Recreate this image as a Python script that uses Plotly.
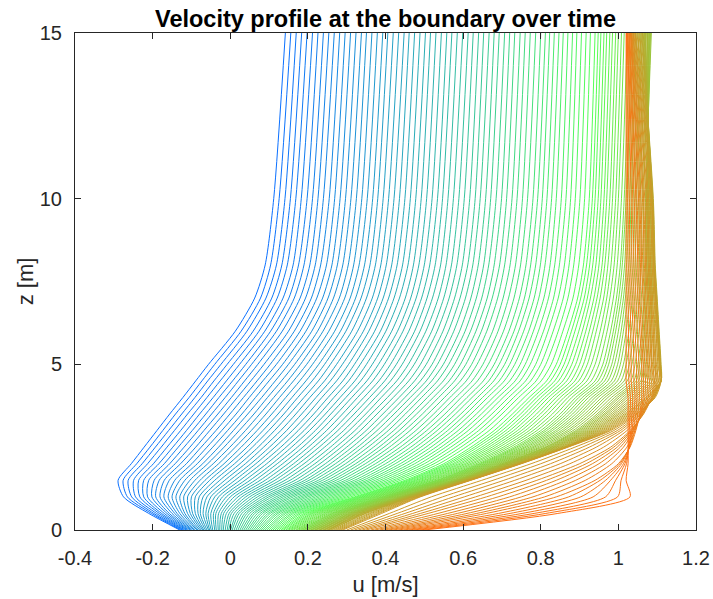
import plotly.graph_objects as go

# Height levels [m]
z_levels = [0, 0.5, 1, 1.5, 2, 2.5, 3, 3.5, 4, 4.5, 5, 6, 7, 8, 10, 15]

# u [m/s] at each height, one value per profile (121 profiles, ordered in time)
u_z00 = [-0.13,
 -0.127,-0.123,-0.12,-0.117,-0.113,-0.11,-0.107,-0.103,-0.1,-0.097,-0.093,-0.09,
 -0.086,-0.083,-0.079,-0.075,-0.071,-0.068,-0.064,-0.06,-0.056,-0.053,-0.049,-0.045,
 -0.04,-0.036,-0.031,-0.027,-0.022,-0.018,-0.013,-0.008,-0.004,0.001,0.005,0.01,
 0.015,0.02,0.025,0.03,0.035,0.04,0.045,0.05,0.055,0.06,0.065,0.07,
 0.075,0.08,0.085,0.09,0.095,0.1,0.105,0.11,0.115,0.12,0.125,0.13,
 0.134,0.138,0.143,0.147,0.151,0.155,0.159,0.163,0.168,0.172,0.176,0.18,
 0.183,0.187,0.19,0.193,0.197,0.2,0.203,0.207,0.21,0.213,0.217,0.22,
 0.223,0.227,0.23,0.233,0.237,0.24,0.243,0.247,0.25,0.253,0.257,0.26,
 0.265,0.27,0.275,0.28,0.285,0.29, 0.3,0.31,0.32,0.33,0.34,0.35,
 0.362,0.373,0.385,0.397,0.408,0.42, 0.433,0.447,0.46,0.473,0.487,0.5]
u_z05 = [-0.21,
 -0.203,-0.197,-0.19,-0.183,-0.177,-0.17,-0.163,-0.157,-0.15,-0.143,-0.137,-0.13,
 -0.123,-0.117,-0.11,-0.103,-0.097,-0.09,-0.083,-0.077,-0.07,-0.063,-0.057,-0.05,
 -0.043,-0.037,-0.03,-0.023,-0.017,-0.01,-0.003,0.003,0.01,0.017,0.023,0.03,
 0.037,0.043,0.05,0.057,0.063,0.07,0.077,0.083,0.09,0.097,0.103,0.11,
 0.117,0.123,0.13,0.137,0.143,0.15,0.157,0.163,0.17,0.177,0.183,0.19,
 0.196,0.202,0.208,0.213,0.219,0.225,0.231,0.237,0.243,0.248,0.254,0.26,
 0.264,0.268,0.273,0.277,0.281,0.285,0.289,0.293,0.298,0.302,0.306,0.31,
 0.313,0.317,0.32,0.323,0.327,0.33,0.333,0.337,0.34,0.343,0.347,0.35,
 0.357,0.363,0.37,0.377,0.383,0.39, 0.41,0.43,0.45,0.47,0.49,0.51,
 0.535,0.56,0.585,0.61,0.635,0.66, 0.691,0.721,0.752,0.783,0.813,0.844]
u_z10 = [-0.275,
 -0.265,-0.254,-0.244,-0.233,-0.223,-0.213,-0.202,-0.192,-0.181,-0.171,-0.16,-0.15,
 -0.14,-0.13,-0.12,-0.11,-0.1,-0.09,-0.08,-0.07,-0.06,-0.05,-0.04,-0.03,
 -0.02,-0.01,0.0,0.01,0.02,0.03,0.04,0.05,0.06,0.07,0.08,0.09,
 0.099,0.108,0.118,0.127,0.136,0.145,0.154,0.163,0.173,0.182,0.191,0.2,
 0.21,0.22,0.23,0.24,0.25,0.26,0.27,0.28,0.29,0.3,0.31,0.32,
 0.326,0.332,0.338,0.343,0.349,0.355,0.361,0.367,0.373,0.378,0.384,0.39,
 0.394,0.398,0.403,0.407,0.411,0.415,0.419,0.423,0.428,0.432,0.436,0.44,
 0.443,0.445,0.448,0.45,0.453,0.455,0.458,0.46,0.463,0.465,0.468,0.47,
 0.473,0.477,0.48,0.483,0.487,0.49, 0.518,0.547,0.575,0.603,0.632,0.66,
 0.69,0.72,0.75,0.78,0.81,0.84, 0.872,0.903,0.935,0.967,0.998,1.03]
u_z15 = [-0.289,
 -0.276,-0.263,-0.249,-0.236,-0.223,-0.21,-0.196,-0.183,-0.17,-0.157,-0.143,-0.13,
 -0.117,-0.104,-0.091,-0.078,-0.065,-0.053,-0.04,-0.027,-0.014,-0.001,0.012,0.025,
 0.038,0.051,0.064,0.077,0.09,0.103,0.115,0.128,0.141,0.154,0.167,0.18,
 0.192,0.203,0.215,0.227,0.238,0.25,0.262,0.273,0.285,0.297,0.308,0.32,
 0.331,0.342,0.353,0.363,0.374,0.385,0.396,0.407,0.418,0.428,0.439,0.45,
 0.457,0.463,0.47,0.477,0.483,0.49,0.497,0.503,0.51,0.517,0.523,0.53,
 0.534,0.538,0.543,0.547,0.551,0.555,0.559,0.563,0.568,0.572,0.576,0.58,
 0.583,0.585,0.588,0.59,0.593,0.595,0.598,0.6,0.603,0.605,0.608,0.61,
 0.612,0.613,0.615,0.617,0.618,0.62, 0.648,0.677,0.705,0.733,0.762,0.79,
 0.815,0.84,0.865,0.89,0.915,0.94, 0.953,0.967,0.98,0.993,1.007,1.02]
u_z20 = [-0.255,
 -0.241,-0.227,-0.213,-0.198,-0.184,-0.17,-0.156,-0.142,-0.128,-0.113,-0.099,-0.085,
 -0.071,-0.058,-0.044,-0.03,-0.016,-0.003,0.011,0.025,0.039,0.053,0.066,0.08,
 0.094,0.108,0.121,0.135,0.149,0.163,0.176,0.19,0.204,0.218,0.231,0.245,
 0.258,0.271,0.284,0.297,0.31,0.323,0.335,0.348,0.361,0.374,0.387,0.4,
 0.413,0.425,0.438,0.45,0.463,0.475,0.488,0.5,0.513,0.525,0.538,0.55,
 0.558,0.565,0.573,0.58,0.588,0.595,0.603,0.61,0.618,0.625,0.633,0.64,
 0.645,0.65,0.655,0.66,0.665,0.67,0.675,0.68,0.685,0.69,0.695,0.7,
 0.703,0.707,0.71,0.713,0.717,0.72,0.723,0.727,0.73,0.733,0.737,0.74,
 0.742,0.743,0.745,0.747,0.748,0.75, 0.775,0.8,0.825,0.85,0.875,0.9,
 0.917,0.933,0.95,0.967,0.983,1.0, 1.004,1.008,1.013,1.017,1.021,1.025]
u_z25 = [-0.222,
 -0.207,-0.193,-0.178,-0.163,-0.148,-0.134,-0.119,-0.104,-0.089,-0.075,-0.06,-0.045,
 -0.03,-0.016,-0.001,0.013,0.028,0.043,0.057,0.072,0.086,0.101,0.115,0.13,
 0.144,0.158,0.173,0.187,0.201,0.215,0.229,0.243,0.258,0.272,0.286,0.3,
 0.314,0.328,0.341,0.355,0.369,0.383,0.396,0.41,0.424,0.438,0.451,0.465,
 0.478,0.491,0.504,0.517,0.53,0.543,0.555,0.568,0.581,0.594,0.607,0.62,
 0.629,0.638,0.648,0.657,0.666,0.675,0.684,0.693,0.703,0.712,0.721,0.73,
 0.737,0.743,0.75,0.757,0.763,0.77,0.777,0.783,0.79,0.797,0.803,0.81,
 0.814,0.818,0.823,0.827,0.831,0.835,0.839,0.843,0.848,0.852,0.856,0.86,
 0.862,0.863,0.865,0.867,0.868,0.87, 0.888,0.907,0.925,0.943,0.962,0.98,
 0.988,0.997,1.005,1.013,1.022,1.03, 1.029,1.028,1.028,1.027,1.026,1.025]
u_z30 = [-0.189,
 -0.174,-0.159,-0.144,-0.128,-0.113,-0.098,-0.083,-0.068,-0.053,-0.037,-0.022,-0.007,
 0.008,0.023,0.039,0.054,0.069,0.084,0.099,0.114,0.13,0.145,0.16,0.175,
 0.19,0.204,0.219,0.233,0.248,0.263,0.277,0.292,0.306,0.321,0.335,0.35,
 0.364,0.378,0.393,0.407,0.421,0.435,0.449,0.463,0.478,0.492,0.506,0.52,
 0.533,0.547,0.56,0.573,0.587,0.6,0.613,0.627,0.64,0.653,0.667,0.68,
 0.69,0.7,0.71,0.72,0.73,0.74,0.75,0.76,0.77,0.78,0.79,0.8,
 0.808,0.815,0.823,0.83,0.838,0.845,0.853,0.86,0.868,0.875,0.883,0.89,
 0.895,0.9,0.905,0.91,0.915,0.92,0.925,0.93,0.935,0.94,0.945,0.95,
 0.955,0.96,0.965,0.97,0.975,0.98, 0.988,0.997,1.005,1.013,1.022,1.03,
 1.033,1.035,1.038,1.04,1.043,1.045, 1.042,1.038,1.035,1.032,1.028,1.025]
u_z35 = [-0.156,
 -0.141,-0.125,-0.11,-0.094,-0.079,-0.063,-0.048,-0.032,-0.017,-0.001,0.015,0.03,
 0.045,0.061,0.076,0.092,0.107,0.123,0.138,0.153,0.169,0.184,0.2,0.215,
 0.23,0.245,0.259,0.274,0.289,0.304,0.319,0.334,0.349,0.363,0.378,0.393,
 0.408,0.422,0.437,0.451,0.466,0.48,0.495,0.509,0.524,0.538,0.553,0.567,
 0.58,0.594,0.607,0.62,0.634,0.647,0.66,0.674,0.687,0.7,0.714,0.727,
 0.737,0.748,0.758,0.768,0.778,0.789,0.799,0.809,0.819,0.83,0.84,0.85,
 0.858,0.866,0.874,0.882,0.89,0.898,0.905,0.913,0.921,0.929,0.937,0.945,
 0.951,0.957,0.963,0.968,0.974,0.98,0.986,0.992,0.998,1.003,1.009,1.015,
 1.02,1.025,1.03,1.035,1.04,1.045, 1.048,1.052,1.055,1.058,1.062,1.065,
 1.063,1.062,1.06,1.058,1.057,1.055, 1.05,1.045,1.04,1.035,1.03,1.025]
u_z40 = [-0.122,
 -0.106,-0.091,-0.075,-0.06,-0.044,-0.029,-0.013,0.003,0.018,0.034,0.049,0.065,
 0.081,0.096,0.112,0.127,0.143,0.159,0.174,0.19,0.205,0.221,0.236,0.252,
 0.267,0.283,0.298,0.313,0.328,0.344,0.359,0.374,0.389,0.405,0.42,0.435,
 0.45,0.464,0.479,0.493,0.508,0.523,0.537,0.552,0.566,0.581,0.595,0.61,
 0.623,0.637,0.65,0.663,0.677,0.69,0.703,0.717,0.73,0.743,0.757,0.77,
 0.78,0.79,0.8,0.81,0.82,0.83,0.84,0.85,0.86,0.87,0.88,0.89,
 0.898,0.907,0.915,0.923,0.932,0.94,0.948,0.957,0.965,0.973,0.982,0.99,
 0.997,1.003,1.01,1.017,1.023,1.03,1.037,1.043,1.05,1.057,1.063,1.07,
 1.074,1.078,1.083,1.087,1.091,1.095, 1.093,1.092,1.09,1.088,1.087,1.085,
 1.081,1.077,1.073,1.068,1.064,1.06, 1.054,1.048,1.043,1.037,1.031,1.025]
u_z45 = [-0.089,
 -0.073,-0.058,-0.042,-0.026,-0.01,0.006,0.021,0.037,0.053,0.069,0.084,0.1,
 0.116,0.132,0.148,0.163,0.179,0.195,0.211,0.227,0.243,0.258,0.274,0.29,
 0.305,0.321,0.336,0.352,0.367,0.383,0.398,0.413,0.429,0.444,0.46,0.475,
 0.49,0.505,0.519,0.534,0.549,0.564,0.578,0.593,0.608,0.623,0.637,0.652,
 0.666,0.679,0.693,0.706,0.72,0.734,0.747,0.761,0.774,0.788,0.801,0.815,
 0.825,0.836,0.846,0.857,0.867,0.878,0.888,0.898,0.909,0.919,0.93,0.94,
 0.948,0.957,0.965,0.973,0.982,0.99,0.998,1.007,1.015,1.023,1.032,1.04,
 1.046,1.052,1.058,1.063,1.069,1.075,1.081,1.087,1.093,1.098,1.104,1.11,
 1.11,1.11,1.11,1.11,1.11,1.11, 1.107,1.103,1.1,1.097,1.093,1.09,
 1.085,1.08,1.075,1.07,1.065,1.06, 1.053,1.047,1.04,1.033,1.027,1.02]
u_z50 = [-0.056,
 -0.04,-0.024,-0.008,0.008,0.024,0.04,0.055,0.071,0.087,0.103,0.119,0.135,
 0.15,0.166,0.181,0.197,0.212,0.228,0.243,0.258,0.274,0.289,0.305,0.32,
 0.335,0.351,0.366,0.382,0.397,0.413,0.428,0.443,0.459,0.474,0.49,0.505,
 0.52,0.534,0.549,0.563,0.578,0.593,0.607,0.622,0.636,0.651,0.665,0.68,
 0.693,0.707,0.72,0.733,0.747,0.76,0.773,0.787,0.8,0.813,0.827,0.84,
 0.85,0.86,0.87,0.88,0.89,0.9,0.91,0.92,0.93,0.94,0.95,0.96,
 0.968,0.975,0.983,0.99,0.998,1.005,1.013,1.02,1.028,1.035,1.043,1.05,
 1.055,1.06,1.065,1.07,1.075,1.08,1.085,1.09,1.095,1.1,1.105,1.11,
 1.109,1.108,1.108,1.107,1.106,1.105, 1.102,1.098,1.095,1.092,1.088,1.085,
 1.081,1.077,1.073,1.068,1.064,1.06, 1.053,1.047,1.04,1.033,1.027,1.02]
u_z60 = [0.013,
 0.028,0.043,0.059,0.074,0.089,0.104,0.119,0.134,0.15,0.165,0.18,0.195,
 0.21,0.225,0.239,0.254,0.269,0.284,0.298,0.313,0.328,0.343,0.357,0.372,
 0.387,0.401,0.416,0.431,0.445,0.46,0.475,0.489,0.504,0.519,0.533,0.548,
 0.562,0.576,0.591,0.605,0.619,0.633,0.647,0.661,0.676,0.69,0.704,0.718,
 0.731,0.743,0.756,0.769,0.781,0.794,0.807,0.819,0.832,0.845,0.857,0.87,
 0.879,0.888,0.898,0.907,0.916,0.925,0.934,0.943,0.953,0.962,0.971,0.98,
 0.987,0.993,1.0,1.007,1.013,1.02,1.027,1.033,1.04,1.047,1.053,1.06,
 1.064,1.068,1.071,1.075,1.079,1.083,1.086,1.09,1.094,1.098,1.101,1.105,
 1.104,1.103,1.103,1.102,1.101,1.1, 1.097,1.093,1.09,1.087,1.083,1.08,
 1.076,1.072,1.068,1.063,1.059,1.055, 1.049,1.043,1.038,1.032,1.026,1.02]
u_z70 = [0.063,
 0.078,0.092,0.107,0.121,0.136,0.151,0.165,0.18,0.194,0.209,0.223,0.238,
 0.252,0.266,0.281,0.295,0.309,0.323,0.337,0.351,0.366,0.38,0.394,0.408,
 0.422,0.436,0.451,0.465,0.479,0.493,0.507,0.521,0.536,0.55,0.564,0.578,
 0.592,0.606,0.62,0.634,0.648,0.662,0.675,0.689,0.703,0.717,0.731,0.745,
 0.758,0.77,0.783,0.795,0.808,0.82,0.833,0.845,0.858,0.87,0.883,0.895,
 0.903,0.912,0.92,0.928,0.937,0.945,0.953,0.962,0.97,0.978,0.987,0.995,
 1.001,1.007,1.013,1.018,1.024,1.03,1.036,1.042,1.048,1.053,1.059,1.065,
 1.068,1.071,1.074,1.077,1.08,1.083,1.085,1.088,1.091,1.094,1.097,1.1,
 1.099,1.098,1.098,1.097,1.096,1.095, 1.092,1.088,1.085,1.082,1.078,1.075,
 1.071,1.067,1.063,1.058,1.054,1.05, 1.045,1.04,1.035,1.03,1.025,1.02]
u_z80 = [0.09,
 0.104,0.119,0.133,0.147,0.162,0.176,0.19,0.205,0.219,0.233,0.248,0.262,
 0.276,0.29,0.304,0.318,0.332,0.346,0.36,0.374,0.388,0.402,0.416,0.43,
 0.444,0.458,0.472,0.486,0.5,0.514,0.528,0.542,0.556,0.57,0.584,0.598,
 0.612,0.625,0.639,0.653,0.666,0.68,0.694,0.707,0.721,0.735,0.748,0.762,
 0.774,0.787,0.799,0.811,0.824,0.836,0.848,0.861,0.873,0.885,0.898,0.91,
 0.918,0.926,0.934,0.942,0.95,0.958,0.965,0.973,0.981,0.989,0.997,1.005,
 1.01,1.016,1.021,1.027,1.032,1.038,1.043,1.048,1.054,1.059,1.065,1.07,
 1.072,1.074,1.076,1.078,1.08,1.083,1.085,1.087,1.089,1.091,1.093,1.095,
 1.094,1.093,1.093,1.092,1.091,1.09, 1.087,1.083,1.08,1.077,1.073,1.07,
 1.067,1.063,1.06,1.057,1.053,1.05, 1.045,1.04,1.035,1.03,1.025,1.02]
u_z100 = [0.112,
 0.126,0.141,0.155,0.169,0.183,0.198,0.212,0.226,0.24,0.255,0.269,0.283,
 0.297,0.311,0.325,0.339,0.353,0.367,0.38,0.394,0.408,0.422,0.436,0.45,
 0.464,0.478,0.492,0.506,0.52,0.534,0.547,0.561,0.575,0.589,0.603,0.617,
 0.631,0.644,0.658,0.671,0.685,0.699,0.712,0.726,0.739,0.753,0.766,0.78,
 0.792,0.804,0.816,0.828,0.84,0.853,0.865,0.877,0.889,0.901,0.913,0.925,
 0.933,0.94,0.948,0.955,0.963,0.97,0.978,0.985,0.993,1.0,1.008,1.015,
 1.02,1.024,1.029,1.033,1.038,1.043,1.047,1.052,1.056,1.061,1.065,1.07,
 1.072,1.073,1.075,1.077,1.078,1.08,1.082,1.083,1.085,1.087,1.088,1.09,
 1.089,1.088,1.088,1.087,1.086,1.085, 1.082,1.078,1.075,1.072,1.068,1.065,
 1.062,1.058,1.055,1.052,1.048,1.045, 1.041,1.037,1.033,1.028,1.024,1.02]
u_z150 = [0.142,
 0.156,0.17,0.184,0.198,0.212,0.226,0.24,0.254,0.268,0.282,0.296,0.31,
 0.324,0.338,0.351,0.365,0.379,0.393,0.406,0.42,0.434,0.448,0.461,0.475,
 0.489,0.503,0.516,0.53,0.544,0.558,0.571,0.585,0.599,0.613,0.626,0.64,
 0.653,0.667,0.68,0.693,0.707,0.72,0.733,0.747,0.76,0.773,0.787,0.8,
 0.812,0.823,0.835,0.847,0.858,0.87,0.882,0.893,0.905,0.917,0.928,0.94,
 0.948,0.955,0.963,0.97,0.978,0.985,0.993,1.0,1.008,1.015,1.023,1.03,
 1.035,1.039,1.044,1.048,1.053,1.058,1.062,1.067,1.071,1.076,1.08,1.085,
 1.083,1.081,1.079,1.077,1.075,1.073,1.07,1.068,1.066,1.064,1.062,1.06,
 1.058,1.055,1.053,1.05,1.048,1.045, 1.043,1.042,1.04,1.038,1.037,1.035,
 1.034,1.033,1.032,1.031,1.029,1.028, 1.027,1.025,1.024,1.023,1.021,1.02]

x_ticks = [-0.4, -0.2, 0, 0.2, 0.4, 0.6, 0.8, 1.0, 1.2]
x_tick_labels = ["-0.4", "-0.2", "0", "0.2", "0.4", "0.6", "0.8", "1", "1.2"]
y_ticks = [0, 5, 10, 15]
y_tick_labels = ["0", "5", "10", "15"]

rows = [u_z00, u_z05, u_z10, u_z15, u_z20, u_z25, u_z30, u_z35, u_z40,
        u_z45, u_z50, u_z60, u_z70, u_z80, u_z100, u_z150]
n_prof = len(u_z00)
for r in rows:
    assert len(r) == n_prof, len(r)

# colour ramp: blue -> green -> orange (style only)
c_start = (10, 112, 255)
c_mid = (85, 255, 85)
c_end = (255, 112, 20)


def ramp(f):
    if f <= 0.5:
        a, b, s = c_start, c_mid, f / 0.5
    else:
        a, b, s = c_mid, c_end, (f - 0.5) / 0.5
    return "rgb(%d,%d,%d)" % tuple(round(a[i] + (b[i] - a[i]) * s) for i in range(3))


fig = go.Figure()
for k in range(n_prof):
    fig.add_trace(go.Scatter(
        x=[row[k] for row in rows], y=z_levels, mode="lines",
        line=dict(color=ramp(k / (n_prof - 1)), width=1, shape="spline", smoothing=0.7),
        showlegend=False, hoverinfo="skip"))

axis_col = "#262626"
font_fam = "Liberation Sans, Arial, sans-serif"
common = dict(showgrid=False, zeroline=False, showline=True, linecolor=axis_col,
              linewidth=1, mirror="ticks", ticks="inside", ticklen=6,
              tickcolor=axis_col, tickwidth=1, automargin=False,
              tickfont=dict(family=font_fam, size=20, color=axis_col))

fig.update_layout(
    width=713, height=599,
    margin=dict(l=75, r=17, t=33, b=69),
    paper_bgcolor="white", plot_bgcolor="white",
    title=dict(text="<b>Velocity profile at the boundary over time</b>",
               x=(75 + 696) / 2 / 713, xanchor="center",
               y=1 - 19 / 599, yanchor="middle", yref="container",
               font=dict(family=font_fam, size=23.5, color="black")),
    xaxis=dict(range=[-0.4, 1.2], tickvals=x_ticks, ticktext=x_tick_labels,
               ticklabelstandoff=10,
               title=dict(text="u [m/s]", standoff=8,
                          font=dict(family=font_fam, size=22, color=axis_col)),
               **common),
    yaxis=dict(range=[0, 15], tickvals=y_ticks, ticktext=y_tick_labels,
               ticklabelstandoff=8,
               title=dict(text="z [m]", standoff=0,
                          font=dict(family=font_fam, size=22, color=axis_col)),
               **common),
)

fig.write_html("out.html")
